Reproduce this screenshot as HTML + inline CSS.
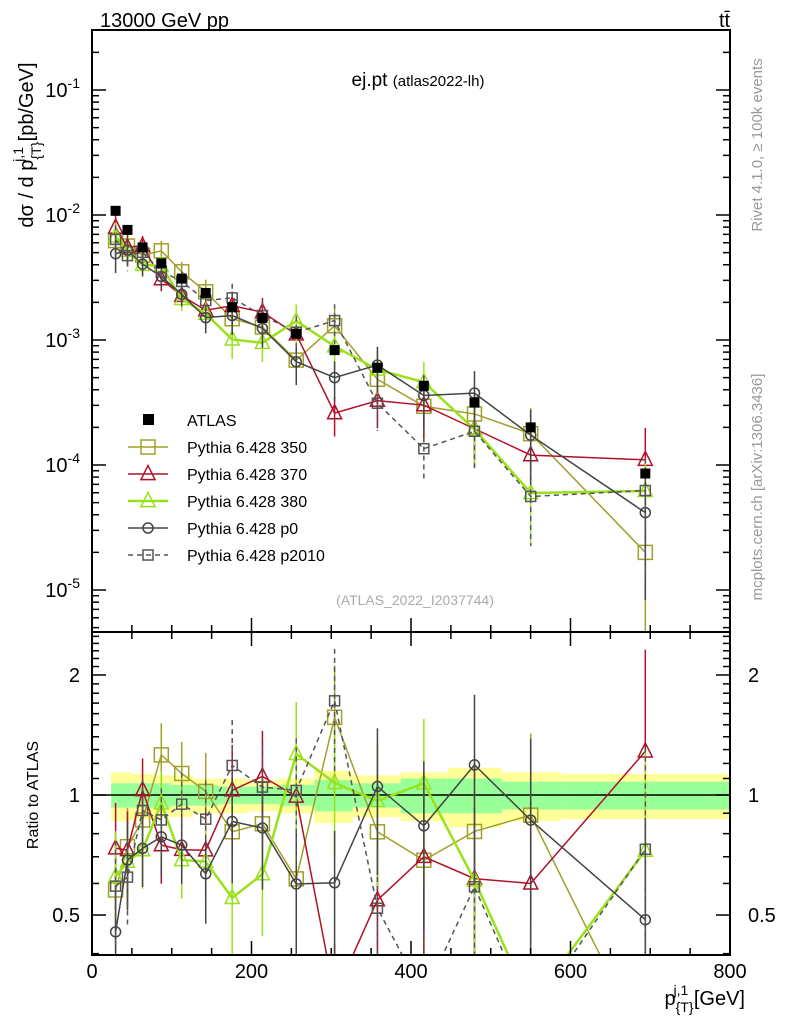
<!DOCTYPE html>
<html><head><meta charset="utf-8"><style>
html,body{margin:0;padding:0;background:#fff;width:786px;height:1024px;overflow:hidden;}
svg{display:block;font-family:"Liberation Sans",sans-serif;}
</style></head><body>
<svg id="c" width="786" height="1024" viewBox="0 0 786 1024">
<defs>
<clipPath id="cm"><rect x="92" y="30" width="638" height="602"/></clipPath>
<clipPath id="cr"><rect x="92" y="632" width="638" height="323"/></clipPath>
</defs>
<g id="bands" clip-path="url(#cr)"></g>
<line x1="92" x2="730" y1="795" y2="795" stroke="#000" stroke-width="1.5"/>
<g id="mainMarks" clip-path="url(#cm)"></g>
<g id="ratioMarks" clip-path="url(#cr)"></g>
<g id="axes"></g>
<rect x="92" y="30" width="638" height="602" fill="none" stroke="#000" stroke-width="2"/>
<rect x="92" y="632" width="638" height="323" fill="none" stroke="#000" stroke-width="2"/>
<text x="100" y="27" font-size="20">13000 GeV pp</text>
<text x="719" y="27" font-size="20">tt̄</text>
<text x="418" y="86" font-size="19" text-anchor="middle">ej.pt <tspan font-size="15">(atlas2022-lh)</tspan></text>
<text x="415" y="605" font-size="14" fill="#aaa" text-anchor="middle">(ATLAS_2022_I2037744)</text>
<text transform="translate(762,145) rotate(-90)" font-size="15" fill="#999" text-anchor="middle">Rivet 4.1.0, ≥ 100k events</text>
<text transform="translate(762,487) rotate(-90)" font-size="15" fill="#999" text-anchor="middle">mcplots.cern.ch [arXiv:1306.3436]</text>
<text transform="translate(33,145) rotate(-90)" font-size="20" text-anchor="middle">dσ / d p<tspan dy="8" font-size="14">{T}</tspan><tspan dy="-18" dx="-20" font-size="14">j,1</tspan><tspan dy="10"> [pb/GeV]</tspan></text>
<text transform="translate(38,795) rotate(-90)" font-size="16" text-anchor="middle">Ratio to ATLAS</text>
<text x="745" y="1005" font-size="20" text-anchor="end">p<tspan dy="7" font-size="14">{T}</tspan><tspan dy="-17" dx="-20" font-size="14">j,1</tspan><tspan dy="10">&#160;[GeV]</tspan></text>
<g id="legend"></g>
</svg>
<script>
const xVals=[29.6,44.5,63.4,86.9,112.5,142.6,175.8,213.7,256.1,304.2,357.9,416.1,479.6,550.1,693.8];
const atlasVals=[0.0108,0.0076,0.0055,0.0041,0.0031,0.00238,0.00183,0.0015,0.00112,0.00083,0.0006,0.00043,0.000316,0.0002,0.0000855];
const s350=[0.00624,0.00564,0.00476,0.00517,0.00351,0.00243,0.00148,0.00127,0.00069,0.0013,0.000485,0.000295,0.000256,0.000178,0.00002];
const s370=[0.00794,0.00553,0.00566,0.00307,0.00226,0.00173,0.00188,0.00167,0.00111,0.00026,0.000327,0.000301,0.000195,0.00012,0.00011];
const s380=[0.00674,0.00517,0.0040,0.00391,0.00213,0.00162,0.00101,0.00095,0.00142,0.00089,0.00058,0.00046,0.000193,0.0000597,0.000062];
const sp0=[0.0049,0.00522,0.00404,0.00322,0.00232,0.00151,0.00157,0.00124,0.00067,0.0005,0.00063,0.00036,0.000376,0.000173,0.0000416];
const sp2010=[0.00638,0.00473,0.00503,0.00355,0.00294,0.00207,0.00217,0.00157,0.00115,0.00143,0.000312,0.000135,0.000186,0.000056,0.0000625];
const mcRelErr=[0.3,0.25,0.2,0.2,0.2,0.25,0.3,0.3,0.35,0.35,0.4,0.45,0.5,0.6,0.8];
const binEdges=[24,37,50,77,99,127,158,197,235,279,327,387,446,514,588,800];
const totErr=[0.14,0.14,0.13,0.12,0.12,0.10,0.10,0.09,0.10,0.15,0.12,0.14,0.17,0.14,0.13];
const statErr=[0.07,0.07,0.07,0.07,0.06,0.06,0.05,0.05,0.06,0.09,0.07,0.10,0.10,0.08,0.08];
const xTicks=[0,200,400,600,800];
const yDecades=[-1,-2,-3,-4,-5];
const ratioTicks=[2,1,0.5];

const NS="http://www.w3.org/2000/svg";
const clamp=(v,a,b)=>Math.min(b,Math.max(a,v));
const xS=v=>92+v*638/800;
const yM=v=>clamp(90+(-1-Math.log10(Math.max(v,1e-9)))*125,30,632);
const yR=r=>clamp(795-Math.log10(Math.max(r,1e-6))*398.7,632,955);
function mk(tag,attrs,parent){const e=document.createElementNS(NS,tag);for(const k in attrs)e.setAttribute(k,attrs[k]);parent.appendChild(e);return e;}

const bands=document.getElementById('bands');
for(let i=0;i<totErr.length;i++){
  const x0=xS(binEdges[i]),x1=xS(binEdges[i+1]);
  const y=mk('rect',{x:x0,y:yR(1+totErr[i]),width:x1-x0,height:yR(1-totErr[i])-yR(1+totErr[i]),fill:'#ffff99'},bands);
  
  
  const g=mk('rect',{x:x0,y:yR(1+statErr[i]),width:x1-x0,height:yR(1-statErr[i])-yR(1+statErr[i]),fill:'#99ff99'},bands);
  
  
}

const series=[
 {name:'pythia-350',label:'Pythia 6.428 350',vals:s350,col:'#a0a02a',w:1.5,m:'sq',sz:14},
 {name:'pythia-370',label:'Pythia 6.428 370',vals:s370,col:'#b0102a',w:1.5,m:'tri',sz:14},
 {name:'pythia-380',label:'Pythia 6.428 380',vals:s380,col:'#99e21a',w:2.5,m:'tri',sz:14},
 {name:'pythia-p0',label:'Pythia 6.428 p0',vals:sp0,col:'#444444',w:1.5,m:'circ',sz:10},
 {name:'pythia-p2010',label:'Pythia 6.428 p2010',vals:sp2010,col:'#555555',w:1.5,m:'sq',sz:10,dash:'5,4'}
];
function marker(s,cx,cy,parent){
  let e;
  if(s.m==='sq')e=mk('rect',{x:cx-s.sz/2,y:cy-s.sz/2,width:s.sz,height:s.sz,fill:'none',stroke:s.col,'stroke-width':1.5},parent);
  else if(s.m==='tri'){const h=s.sz;e=mk('polygon',{points:`${cx},${cy-h*0.6} ${cx-h/2},${cy+h*0.4} ${cx+h/2},${cy+h*0.4}`,fill:'none',stroke:s.col,'stroke-width':1.5},parent);}
  else e=mk('circle',{cx:cx,cy:cy,r:s.sz/2,fill:'none',stroke:s.col,'stroke-width':1.5},parent);
  
  
}
const yRraw=r=>795-Math.log10(r)*398.7;
const mm=document.getElementById('mainMarks'),rm=document.getElementById('ratioMarks');
series.forEach(s=>{
  const gM=mk('g',{},mm);
  const gR=mk('g',{},rm);
  const pm=xVals.map((x,i)=>xS(x)+','+yM(s.vals[i])).join(' ');
  const pr=xVals.map((x,i)=>xS(x)+','+yRraw(s.vals[i]/atlasVals[i])).join(' ');
  const a={fill:'none',stroke:s.col,'stroke-width':s.w};if(s.dash)a['stroke-dasharray']=s.dash;
  const l1=mk('polyline',Object.assign({points:pm},a),gM);
  const l2=mk('polyline',Object.assign({points:pr},a),gR);
  xVals.forEach((x,i)=>{
    const v=s.vals[i],e=mcRelErr[i],cx=xS(x);
    const ea={stroke:s.col,'stroke-width':1.5};if(s.dash)ea['stroke-dasharray']=s.dash;
    const b1=mk('line',Object.assign({x1:cx,x2:cx,y1:yM(v*(1+e)),y2:yM(v*(1-e))},ea),gM);
    const r=v/atlasVals[i];
    const b2=mk('line',Object.assign({x1:cx,x2:cx,y1:yR(r*(1+e)),y2:yR(r*(1-e))},ea),gR);
    marker(s,cx,yM(v),gM);
    if(yRraw(r)>625&&yRraw(r)<962)marker(s,cx,yRraw(r),gR);
  });
});
atlasVals.forEach((v,i)=>{
  const r=mk('rect',{x:xS(xVals[i])-5,y:yM(v)-5,width:10,height:10,fill:'#000'},mm);
  
  
});

const ax=document.getElementById('axes');
function tick(x1,y1,x2,y2){const t=mk('line',{x1,y1,x2,y2,stroke:'#000','stroke-width':1.5},ax);}
for(let v=0;v<=800;v+=50){const x=xS(v),L=(v%200===0)?14:7;tick(x,632,x,632-L);tick(x,955,x,955-L);tick(x,632,x,632+L);}
xTicks.forEach(v=>{const t=mk('text',{x:xS(v),y:978,'font-size':20,'text-anchor':'middle'},ax);t.textContent=v;});
for(let d=-6;d<=0;d++){for(let k=1;k<10;k++){const v=k*Math.pow(10,d);const y=90+(-1-Math.log10(v))*125;if(y<31||y>631)continue;const L=k===1?14:7;tick(92,y,92+L,y);tick(730,y,730-L,y);}}
yDecades.forEach(d=>{const t=mk('text',{x:80,y:yM(Math.pow(10,d))+7,'font-size':20,'text-anchor':'end'},ax);t.innerHTML='10<tspan dy="-9" font-size="14">'+d+'</tspan>';});
for(let k=4;k<=25;k++){const r=k/10;const y=yRraw(r);if(y<633||y>954)continue;const L=(r===0.5||r===1||r===2)?14:7;tick(92,y,92+L,y);tick(730,y,730-L,y);}
ratioTicks.forEach(r=>{
  const t=mk('text',{x:80,y:yR(r)+7,'font-size':20,'text-anchor':'end'},ax);t.textContent=r;
  const t2=mk('text',{x:748,y:yR(r)+7,'font-size':20},ax);t2.textContent=r;
});

const lg=document.getElementById('legend');
const a=mk('rect',{x:143,y:414,width:11,height:11,fill:'#000'},lg);
const at=mk('text',{x:187,y:426,'font-size':16},lg);at.textContent='ATLAS';
series.forEach((s,i)=>{
  const y=447+i*27;
  const la={x1:128,x2:168,y1:y,y2:y,stroke:s.col,'stroke-width':s.w};if(s.dash)la['stroke-dasharray']=s.dash;
  const l=mk('line',la,lg);
  marker(s,148,y,lg);
  const t=mk('text',{x:187,y:y+6,'font-size':16},lg);t.textContent=s.label;
});
</script>
</body></html>
